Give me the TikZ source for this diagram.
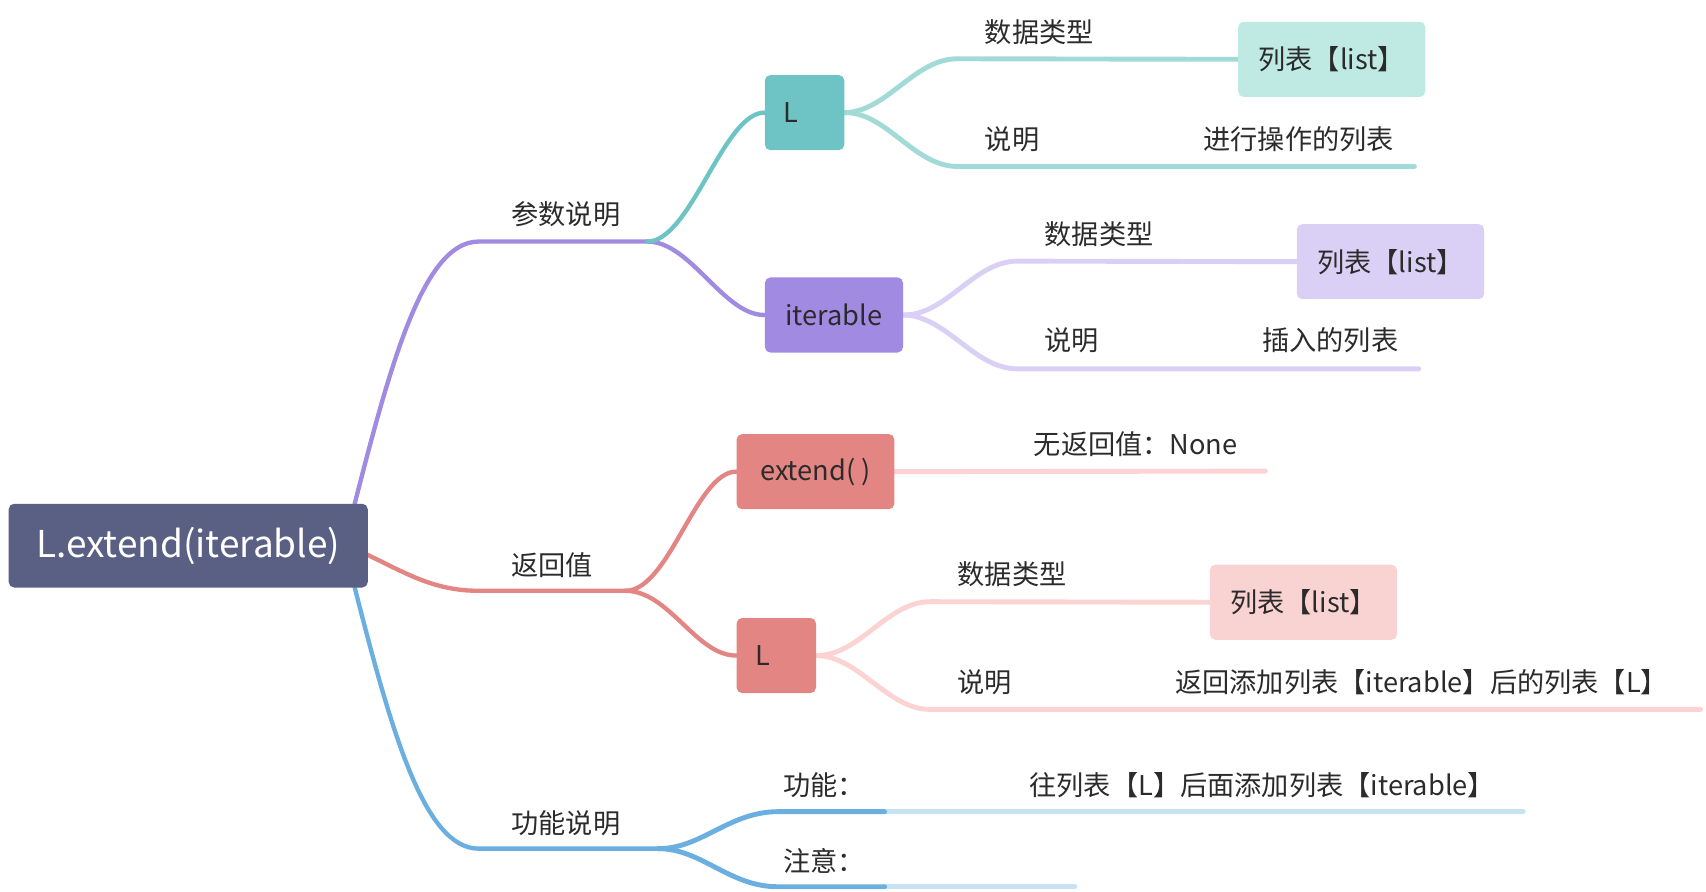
\documentclass[tikz,border=0pt]{standalone}
\usepackage{fontspec}
\setmainfont{Noto Sans CJK SC}
\usetikzlibrary{backgrounds}
\definecolor{txt}{HTML}{2B2B2B}
\definecolor{rootc}{HTML}{5A5F84}
\definecolor{purp}{HTML}{A18AE2}
\definecolor{purpl}{HTML}{DAD0F5}
\definecolor{teal}{HTML}{6EC4C4}
\definecolor{teall}{HTML}{A2DAD7}
\definecolor{tealbox}{HTML}{BEEAE3}
\definecolor{redc}{HTML}{E38583}
\definecolor{pinkl}{HTML}{FBD3D3}
\definecolor{pinkbox}{HTML}{F9D3D1}
\definecolor{blue}{HTML}{6AAFE0}
\definecolor{bluel}{HTML}{C6E3F4}
\begin{document}
\begin{tikzpicture}[x=1pt,y=-1pt,
  box/.style={rounded corners=5pt, minimum height=69pt, inner sep=0pt, text=txt, font=\fontsize{25}{30}\selectfont},
  lbox/.style={box, minimum width=73pt, text width=39pt, inner xsep=17pt, align=left},
  lbl/.style={anchor=west, inner sep=0pt, text=txt, font=\fontsize{25}{30}\selectfont},
  ln/.style={line width=4pt, line cap=round},
  sln/.style={line width=4.5pt, line cap=round}]
\useasboundingbox (0,0) rectangle (1568,819.8);

% ---------- nodes ----------
\node[box, fill=rootc, minimum width=330pt, minimum height=77pt, text=white, font=\fontsize{34}{40}\selectfont] (root) at (173,501.5) {L.extend(iterable)};

\node[lbox, fill=teal] (L1) at (739.5,103.5) {L};
\node[box, fill=purp, minimum width=127pt] (it) at (766.5,289.5) {iterable};
\node[box, fill=redc, minimum width=145pt] (ext) at (749.5,433.5) {extend( )};
\node[lbox, fill=redc] (L2) at (713.5,602.5) {L};

\node[box, fill=tealbox, minimum width=172pt] (list1) at (1224,54.5) {列表【list】};
\node[box, fill=purpl, minimum width=172pt] (list2) at (1278,240.5) {列表【list】};
\node[box, fill=pinkbox, minimum width=172pt] (list3) at (1198,553.5) {列表【list】};

\node[lbl] (t1) at (470,197) {参数说明};
\node[lbl] (t2) at (470,519) {返回值};
\node[lbl] (t3) at (470,757) {功能说明};

\node[lbl] (a1) at (905,30) {数据类型};
\node[lbl] (a2) at (905,128) {说明};
\node[lbl] (a3) at (1106,128) {进行操作的列表};

\node[lbl] (b1) at (960,215) {数据类型};
\node[lbl] (b2) at (960,313) {说明};
\node[lbl] (b3) at (1160,313) {插入的列表};

\node[lbl] (c1) at (950,408) {无返回值：None};

\node[lbl] (d1) at (880,528) {数据类型};
\node[lbl] (d2) at (880,627) {说明};
\node[lbl] (d3) at (1080,627) {返回添加列表【iterable】后的列表【L】};

\node[lbl] (e1) at (720,722) {功能：};
\node[lbl] (e2) at (946,722) {往列表【L】后面添加列表【iterable】};
\node[lbl] (e3) at (720,791) {注意：};

% ---------- coordinates ----------
\coordinate (p0) at (326,463);
\coordinate (p1) at (440,222);
\coordinate (s1) at (595,222);
\coordinate (r0) at (338,510);
\coordinate (r1) at (440,543);
\coordinate (s2) at (575,543);
\coordinate (q0) at (326,540);
\coordinate (q1) at (440,780);
\coordinate (s3) at (605,780);

\coordinate (a2l) at (880,153);
\coordinate (a2r) at (1300,153);
\coordinate (a1l) at (880,54);
\coordinate (b1l) at (935,240);
\coordinate (b2l) at (935,339);
\coordinate (b2r) at (1304,339);
\coordinate (c1r) at (1163,433);
\coordinate (d1l) at (855,553);
\coordinate (d2l) at (855,652);
\coordinate (d2r) at (1563,652);
\coordinate (e1l) at (715,746);
\coordinate (e1m) at (813,746);
\coordinate (e1r) at (1400,746);
\coordinate (e3l) at (715,815);
\coordinate (e3m) at (813,815);
\coordinate (e3r) at (988,815);

% ---------- connectors ----------
\begin{scope}[on background layer]
\draw[ln, purp] (p0) .. controls (360,330) and (390,222) .. (p1) -- (s1);
\draw[ln, purp] (s1) .. controls (635,222) and (665,290) .. (it.west);
\draw[ln, teal] (s1) .. controls (635,222) and (665,103) .. (L1.west);

\draw[sln, teall] (L1.east) .. controls (815,103) and (840,54) .. (a1l) -- (list1.west);
\draw[sln, teall] (L1.east) .. controls (815,103) and (840,153) .. (a2l) -- (a2r);
\draw[sln, purpl] (it.east) .. controls (870,290) and (895,240) .. (b1l) -- (list2.west);
\draw[sln, purpl] (it.east) .. controls (870,290) and (895,339) .. (b2l) -- (b2r);

\draw[ln, redc] (r0) .. controls (375,528) and (400,543) .. (r1) -- (s2);
\draw[ln, redc] (s2) .. controls (615,543) and (640,433) .. (ext.west);
\draw[ln, redc] (s2) .. controls (615,543) and (640,603) .. (L2.west);
\draw[sln, pinkl] (ext.east) -- (c1r);
\draw[sln, pinkl] (L2.east) .. controls (790,603) and (815,553) .. (d1l) -- (list3.west);
\draw[sln, pinkl] (L2.east) .. controls (790,603) and (815,652) .. (d2l) -- (d2r);

\draw[ln, blue] (q0) .. controls (360,673) and (390,780) .. (q1) -- (s3);
\draw[sln, bluel] (e1m) -- (e1r);
\draw[sln, bluel] (e3m) -- (e3r);
\draw[sln, blue] (s3) .. controls (645,780) and (670,746) .. (e1l) -- (e1m);
\draw[sln, blue] (s3) .. controls (645,780) and (670,815) .. (e3l) -- (e3m);
\end{scope}
\end{tikzpicture}
\end{document}
